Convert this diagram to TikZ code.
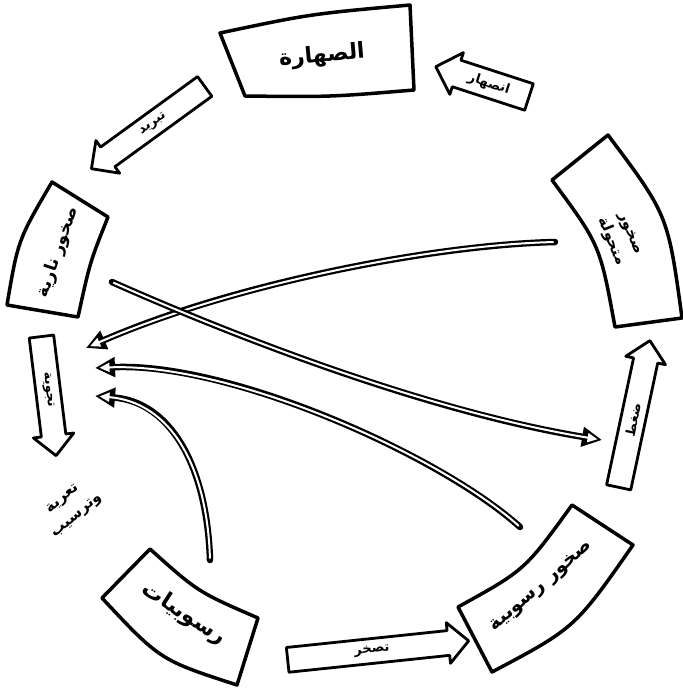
\documentclass[tikz,border=0pt]{standalone}
\usepackage{fontspec}
\newfontfamily\ar[Script=Arabic]{DejaVu Sans}
\TeXXeTstate=1
\usetikzlibrary{shapes.arrows,arrows.meta}
\newcommand{\AR}[1]{{\ar\beginR #1\endR}}
\newcommand{\dblcurve}[4]{%
  \draw[line width=6.5pt, line cap=round, -{Triangle[length=20pt,width=19pt]}] (#1) .. controls (#2) and (#3) .. (#4);
  \draw[line width=2pt, white, line cap=round, shorten <=2pt, shorten >=4.5pt, -{Triangle[length=10pt,width=9pt]}] (#1) .. controls (#2) and (#3) .. (#4);
}
\tikzset{
  box/.style={line width=3.5pt, line join=round},
  lbl/.style={font=\ar\bfseries\fontsize{#1}{#1}\selectfont, inner sep=0pt},
  lbl/.default=18,
  barrow/.style={single arrow, draw, line width=2.8pt, line join=round,
    inner xsep=2pt, inner ysep=6pt, single arrow head extend=8pt,
    single arrow head indent=0pt, font=\ar\bfseries\fontsize{13}{13}\selectfont}
}
\begin{document}
\begin{tikzpicture}[x=1pt,y=-1pt]
\useasboundingbox[fill=white] (0,0) rectangle (683,689);

% boxes
\draw[box] (220,33) .. controls (310,14) .. (410,5) -- (414,90) .. controls (330,97) .. (245,96) -- cycle;
\draw[box] (552,180) -- (608,135) .. controls (668,215) .. (682,318) -- (615,327) .. controls (600,245) .. (552,180) -- cycle;
\draw[box] (52,182) -- (108,217) .. controls (90,262) .. (78,317) -- (7,305) .. controls (18,240) .. (52,182) -- cycle;
\draw[box] (458,607) .. controls (525,570) .. (572,505) -- (633,545) .. controls (575,628) .. (492,672) -- cycle;
\draw[box] (102,598) -- (150,549) .. controls (198,592) .. (258,618) -- (237,685) .. controls (160,660) .. (102,598) -- cycle;

% box labels
\node[lbl=22, rotate=5] (magma) at (322,56) {\AR{الصهارة}};
\node[lbl=15, rotate=-68, align=center] (meta) at (620,238) {\AR{صخور}\\[5pt]\AR{متحولة}};
\node[lbl=17, rotate=71] (igneous) at (58,252) {\AR{صخور نارية}};
\node[lbl=19, rotate=41] (sedrock) at (542,587) {\AR{صخور رسوبية}};
\node[lbl=22, rotate=-33] (sed) at (184,614) {\AR{رسوبيات}};

% block arrows
\node[barrow, rotate=-18, shape border rotate=180, minimum height=98pt] (melt) at (489,84) {\AR{انصهار}};
\node[barrow, rotate=36, shape border rotate=180, minimum height=140pt] (cool) at (153,124) {\AR{تبريد}};
\node[barrow, rotate=-83, minimum height=120pt] (weather) at (48,390) {\AR{تجوية}};
\node[barrow, rotate=6, minimum height=182pt] (lith) at (372,651) {\AR{تصخر}};
\node[barrow, rotate=78, minimum height=150pt] (press) at (633,420) {\AR{ضغط}};

% free label
\node[lbl=15, rotate=40, align=center] (erosion) at (70,508) {\AR{تعرية}\\[7pt]\AR{وترسيب}};

% inner connectors
\coordinate (a1) at (555,242);
\coordinate (a2) at (86,348);
\coordinate (b1) at (112,282);
\coordinate (b2) at (602,440);
\coordinate (c1) at (520,527);
\coordinate (c2) at (95,368);
\coordinate (d1) at (210,560);
\coordinate (d2) at (95,396);
\dblcurve{a1}{430,245}{230,285}{a2}
\dblcurve{b1}{220,330}{420,410}{b2}
\dblcurve{c1}{440,455}{230,362}{c2}
\dblcurve{d1}{207,465}{170,402}{d2}
\end{tikzpicture}
\end{document}
